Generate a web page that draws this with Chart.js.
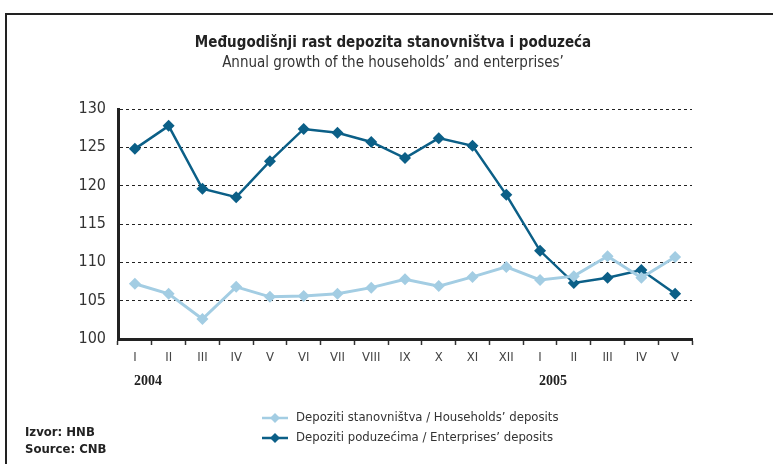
<!DOCTYPE html>
<html><head><meta charset="utf-8">
<script src="https://cdn.jsdelivr.net/npm/chart.js@4/dist/chart.umd.min.js"></script>
<style>
html,body{margin:0;padding:0;background:#fff;}
#wrap{position:relative;width:773px;height:464px;overflow:hidden;}
#frame{position:absolute;left:5px;top:13px;width:800px;height:500px;border-top:2px solid #222;border-left:2px solid #222;box-sizing:border-box;}
canvas{position:absolute;left:0;top:0;}
</style></head>
<body><div id="wrap"><div id="frame"></div><canvas id="c" width="773" height="464"></canvas></div>
<script>
const months = ['I','II','III','IV','V','VI','VII','VIII','IX','X','XI','XII','I','II','III','IV','V'];
const years = [{index:0,label:'2004'},{index:12,label:'2005'}];
const households = [107.2,105.9,102.6,106.8,105.5,105.6,105.9,106.7,107.8,106.9,108.1,109.4,107.7,108.2,110.8,108.0,110.7];
const enterprises = [124.8,127.8,119.6,118.5,123.2,127.4,126.9,125.7,123.6,126.2,125.2,118.8,111.5,107.3,108.0,109.0,105.9];
const titleLines = ['Međugodišnji rast depozita stanovništva i poduzeća','Annual growth of the households’ and enterprises’'];
const seriesNames = ['Depoziti stanovništva / Households’ deposits','Depoziti poduzećima / Enterprises’ deposits'];
const sourceLines = ['Izvor: HNB','Source: CNB'];

const LIGHT = '#a3cde3', DARK = '#0b5f87';
const FONT = "'Liberation Sans Narrow','DejaVu Sans Condensed','Liberation Sans',sans-serif";

const extras = {
  id:'extras',
  afterDraw(chart){
    const ctx = chart.ctx, xs = chart.scales.x;
    ctx.save();
    ctx.fillStyle = '#222';
    ctx.textAlign = 'center'; ctx.textBaseline = 'middle';
    ctx.font = "bold 15px " + FONT;
    ctx.fillText(titleLines[0], 393, 43);
    ctx.font = "15px " + FONT;
    ctx.fillStyle = '#333';
    ctx.fillText(titleLines[1], 393, 63);
    ctx.fillStyle = '#222';
    ctx.font = "bold 14px 'Liberation Serif','DejaVu Serif',serif";
    years.forEach(y=>{ ctx.fillText(y.label, xs.getPixelForValue(y.index)+13, 381); });
    ctx.textAlign='left';
    ctx.font = "bold 13px " + FONT;
    ctx.fillText(sourceLines[0], 25, 433);
    ctx.fillText(sourceLines[1], 25, 450);
    const items = [[LIGHT, seriesNames[0], 418],[DARK, seriesNames[1], 438]];
    items.forEach(([col, name, yy])=>{
      ctx.strokeStyle = col; ctx.lineWidth = 2.5;
      ctx.beginPath(); ctx.moveTo(262, yy); ctx.lineTo(288, yy); ctx.stroke();
      ctx.fillStyle = col;
      ctx.beginPath(); ctx.moveTo(275, yy-5); ctx.lineTo(280, yy); ctx.lineTo(275, yy+5); ctx.lineTo(270, yy); ctx.closePath(); ctx.fill();
      ctx.fillStyle = '#333'; ctx.font = "13px " + FONT;
      ctx.fillText(name, 296, yy);
    });
    ctx.restore();
  }
};

new Chart(document.getElementById('c'), {
  type:'line',
  data:{
    labels: months,
    datasets:[
      {label:seriesNames[0], data:households, borderColor:LIGHT, backgroundColor:LIGHT, borderWidth:3, pointStyle:'rectRot', pointRadius:6, pointBorderWidth:0, tension:0},
      {label:seriesNames[1], data:enterprises, borderColor:DARK, backgroundColor:DARK, borderWidth:2.5, pointStyle:'rectRot', pointRadius:6, pointBorderWidth:0, tension:0}
    ]
  },
  options:{
    responsive:false, animation:false, devicePixelRatio:1,
    layout:{padding:{left:0, top:109, right:81, bottom:0}, autoPadding:false},
    plugins:{legend:{display:false}, tooltip:{enabled:false}, title:{display:false}},
    scales:{
      x:{
        offset:true,
        grid:{offset:true, drawOnChartArea:false, drawTicks:true, tickLength:6, tickColor:'#333', tickWidth:1.5},
        border:{display:true, color:'#222', width:3},
        ticks:{color:'#444', font:{family:FONT, size:13}, padding:5, maxRotation:0, autoSkip:false},
        afterFit(s){ s.height = 125; }
      },
      y:{
        min:100, max:130,
        ticks:{stepSize:5, color:'#333', font:{family:FONT, size:16}, padding:12},
        grid:{color:'#222', lineWidth:1, drawTicks:false},
        border:{display:true, color:'#222', width:3, dash:[]},
        afterFit(s){ s.width = 118; }
      }
    }
  },
  plugins:[extras, {
    id:'dashGrid',
    beforeInit(chart){ chart.options.scales.y.border.dash = [3,3]; }
  }]
});
</script></body></html>
